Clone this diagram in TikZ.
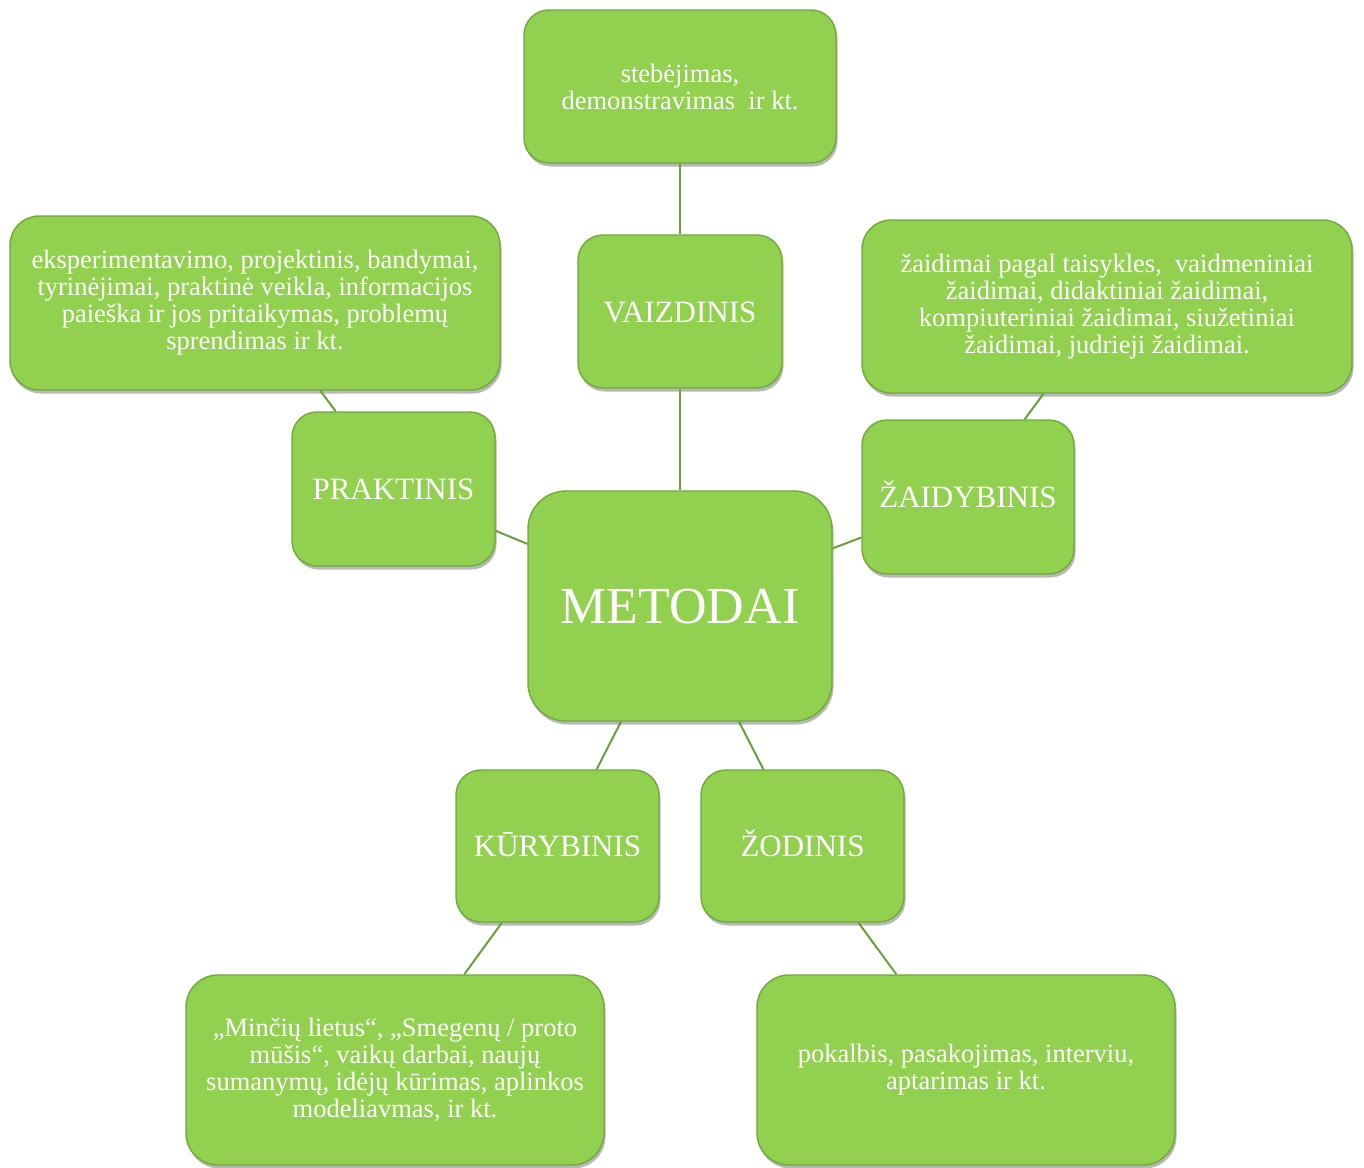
\documentclass[tikz,border=0pt]{standalone}
\usepackage{fontspec}
\setmainfont{Liberation Serif}
\usetikzlibrary{shadows}
\definecolor{boxfill}{RGB}{146,208,80}
\definecolor{boxline}{RGB}{112,168,62}
\definecolor{linkcol}{RGB}{106,160,60}
\tikzset{
  gbox/.style={draw=boxline, line width=1.4pt, fill=boxfill, text=white, align=center, inner sep=0pt,
    drop shadow={shadow xshift=1.5pt, shadow yshift=-3.5pt, fill=black, opacity=0.28}},
  smalltxt/.style={font=\fontsize{26.5}{27}\selectfont},
  midtxt/.style={font=\fontsize{31}{36}\selectfont, text height=21pt, text depth=0pt},
  link/.style={draw=linkcol, line width=2pt}
}
\begin{document}
\begin{tikzpicture}[x=1pt,y=-1pt]
\useasboundingbox (0,0) rectangle (1364,1167);
% nodes
\node[gbox, smalltxt, minimum width=312pt, minimum height=153pt, rounded corners=25pt] (top) at (680,86.5)
  {stebėjimas,\\demonstravimas\ \ ir kt.};
\node[gbox, midtxt, minimum width=204pt, minimum height=153pt, rounded corners=25pt] (vaiz) at (680,311.5) {VAIZDINIS};
\node[gbox, smalltxt, minimum width=490pt, minimum height=174pt, rounded corners=29pt] (left) at (255,303)
  {eksperimentavimo, projektinis, bandymai,\\tyrinėjimai, praktinė veikla, informacijos\\paieška ir jos pritaikymas, problemų\\sprendimas ir kt.};
\node[gbox, midtxt, minimum width=203pt, minimum height=154pt, rounded corners=25pt] (prak) at (393.5,489) {PRAKTINIS};
\node[gbox, font=\fontsize{52}{56}\selectfont, text height=35pt, text depth=0pt, minimum width=304pt, minimum height=230pt, rounded corners=38pt] (met) at (680,606) {METODAI};
\node[gbox, midtxt, minimum width=212pt, minimum height=154pt, rounded corners=25pt] (zaid) at (968,497) {ŽAIDYBINIS};
\node[gbox, smalltxt, minimum width=490pt, minimum height=173pt, rounded corners=29pt] (right) at (1107,306.5)
  {žaidimai pagal taisykles,\ \ vaidmeniniai\\žaidimai, didaktiniai žaidimai,\\kompiuteriniai žaidimai, siužetiniai\\žaidimai, judrieji žaidimai.};
\node[gbox, midtxt, minimum width=203pt, minimum height=152pt, rounded corners=25pt] (kur) at (557.5,846) {KŪRYBINIS};
\node[gbox, midtxt, minimum width=203pt, minimum height=152pt, rounded corners=25pt] (zod) at (802.5,846) {ŽODINIS};
\node[gbox, smalltxt, minimum width=418pt, minimum height=190pt, rounded corners=32pt] (bl) at (395,1070)
  {„Minčių lietus“, „Smegenų / proto\\mūšis“, vaikų darbai, naujų\\sumanymų, idėjų kūrimas, aplinkos\\modeliavmas, ir kt.};
\node[gbox, smalltxt, minimum width=418pt, minimum height=190pt, rounded corners=32pt] (br) at (966,1070)
  {pokalbis, pasakojimas, interviu,\\aptarimas ir kt.};
% connectors
\draw[link] (top) -- (vaiz);
\draw[link] (vaiz) -- (met);
\draw[link] (left) -- (prak);
\draw[link] (prak) -- (met);
\draw[link] (zaid) -- (met);
\draw[link] (right) -- (zaid);
\draw[link] (met) -- (kur);
\draw[link] (met) -- (zod);
\draw[link] (kur) -- (bl);
\draw[link] (zod) -- (br);
\end{tikzpicture}
\end{document}
